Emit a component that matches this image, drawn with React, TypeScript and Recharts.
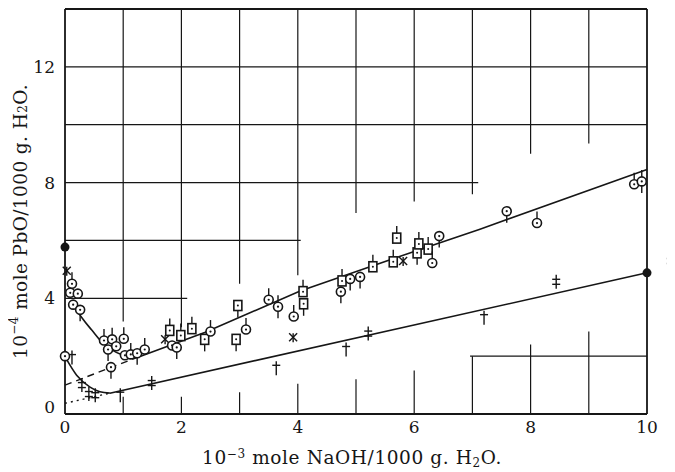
import {
  ComposedChart,
  Line,
  Scatter,
  XAxis,
  YAxis,
  ReferenceLine,
  ReferenceDot,
} from "recharts";

const INK = "#161616";
const FONT = "'DejaVu Serif', 'Liberation Serif', serif";

// axis ticks
const xTicks = [0, 2, 4, 6, 8, 10];
const yTicks = [0, 4, 8, 12];

// measured points; t = direction of the short tail ("u" up, "d" down)
const circles = [
  { x: 0, y: 2.0, t: "" },
  { x: 0.12, y: 4.5, t: "u" },
  { x: 0.09, y: 4.19, t: "" },
  { x: 0.22, y: 4.16, t: "" },
  { x: 0.14, y: 3.78, t: "" },
  { x: 0.26, y: 3.6, t: "d" },
  { x: 0.67, y: 2.54, t: "u" },
  { x: 0.81, y: 2.58, t: "u" },
  { x: 1.01, y: 2.6, t: "u" },
  { x: 0.74, y: 2.23, t: "d" },
  { x: 0.88, y: 2.34, t: "" },
  { x: 1.03, y: 2.03, t: "" },
  { x: 1.13, y: 2.06, t: "u" },
  { x: 1.24, y: 2.1, t: "d" },
  { x: 1.37, y: 2.23, t: "u" },
  { x: 0.79, y: 1.62, t: "d" },
  { x: 1.84, y: 2.37, t: "" },
  { x: 1.92, y: 2.3, t: "d" },
  { x: 2.5, y: 2.85, t: "u" },
  { x: 3.11, y: 2.92, t: "u" },
  { x: 3.5, y: 3.95, t: "u" },
  { x: 3.66, y: 3.71, t: "ud" },
  { x: 3.93, y: 3.37, t: "u" },
  { x: 4.74, y: 4.23, t: "d" },
  { x: 4.9, y: 4.67, t: "d" },
  { x: 5.07, y: 4.74, t: "d" },
  { x: 6.31, y: 5.22, t: "u" },
  { x: 6.43, y: 6.15, t: "d" },
  { x: 7.59, y: 7.01, t: "d" },
  { x: 8.11, y: 6.6, t: "u" },
  { x: 9.78, y: 7.94, t: "u" },
  { x: 9.91, y: 8.04, t: "ud" },
];

const squares = [
  { x: 1.8, y: 2.89, t: "u" },
  { x: 1.99, y: 2.71, t: "u" },
  { x: 2.18, y: 2.95, t: "u" },
  { x: 2.4, y: 2.58, t: "d" },
  { x: 2.94, y: 2.58, t: "d" },
  { x: 2.97, y: 3.75, t: "d" },
  { x: 4.09, y: 4.23, t: "u" },
  { x: 4.1, y: 3.81, t: "d" },
  { x: 4.76, y: 4.6, t: "u" },
  { x: 5.29, y: 5.09, t: "u" },
  { x: 5.64, y: 5.26, t: "u" },
  { x: 5.7, y: 6.08, t: "u" },
  { x: 6.05, y: 5.57, t: "d" },
  { x: 6.08, y: 5.88, t: "u" },
  { x: 6.24, y: 5.7, t: "u" },
];

const stars = [
  { x: 0.03, y: 4.95 },
  { x: 1.72, y: 2.58 },
  { x: 3.92, y: 2.65 },
  { x: 5.81, y: 5.29 },
];

const daggers = [
  { x: 0.12, y: 1.95 },
  { x: 0.95, y: 0.65 },
  { x: 3.63, y: 1.58 },
  { x: 4.83, y: 2.23 },
  { x: 7.2, y: 3.33 },
];

const doubleDaggers = [
  { x: 0.29, y: 1.0 },
  { x: 0.41, y: 0.69 },
  { x: 0.52, y: 0.65 },
  { x: 1.49, y: 1.07 },
  { x: 5.21, y: 2.78 },
  { x: 8.44, y: 4.57 },
];
const outlier = { x: 10.41, y: 5.29 };

const filled = [
  { x: 0, y: 5.77 },
  { x: 10, y: 4.88 },
];

// drawn curves
const upperCurve = [
  { x: 0.14, y: 3.8 },
  { x: 0.3, y: 3.3 },
  { x: 0.46, y: 2.9 },
  { x: 0.64, y: 2.47 },
  { x: 0.82, y: 2.2 },
  { x: 1.03, y: 2.03 },
  { x: 1.3, y: 2.0 },
];
const upperLine = [
  { x: 1.3, y: 2.0 },
  { x: 2.4, y: 2.82 },
  { x: 4.04, y: 4.25 },
  { x: 6.0, y: 5.62 },
  { x: 7.13, y: 6.39 },
  { x: 10, y: 8.45 },
];
const upperDashed = [
  { x: 0, y: 1.0 },
  { x: 1.3, y: 2.0 },
];
const lowerCurve = [
  { x: 0, y: 1.98 },
  { x: 0.2, y: 1.34 },
  { x: 0.43, y: 0.93 },
  { x: 0.6, y: 0.77 },
  { x: 0.77, y: 0.72 },
];
const lowerLine = [
  { x: 0.77, y: 0.72 },
  { x: 10, y: 4.88 },
];
const lowerDotted = [
  { x: 0, y: 0.37 },
  { x: 0.77, y: 0.72 },
];

// the printed grid is broken where the data sits
const hGrid = [
  { y: 14, from: 0, to: 10 },
  { y: 12, from: 0, to: 10 },
  { y: 10, from: 0, to: 10 },
  { y: 8, from: 0, to: 7.1 },
  { y: 6, from: 0, to: 4.05 },
  { y: 4, from: 0, to: 2.1 },
  { y: 2, from: 6.96, to: 10 },
];
const vGrid = [
  { x: 1, from: 3.2, to: 14 },
  { x: 1, from: 0, to: 0.6 },
  { x: 2, from: 3.0, to: 14 },
  { x: 2, from: 0, to: 0.6 },
  { x: 3, from: 4.5, to: 14 },
  { x: 3, from: 0, to: 0.75 },
  { x: 4, from: 4.8, to: 14 },
  { x: 4, from: 0, to: 1.05 },
  { x: 5, from: 6.95, to: 14 },
  { x: 5, from: 0, to: 1.2 },
  { x: 6, from: 7.35, to: 14 },
  { x: 6, from: 0, to: 1.5 },
  { x: 7, from: 7.6, to: 14 },
  { x: 7, from: 0, to: 2 },
  { x: 8, from: 9.0, to: 14 },
  { x: 8, from: 0, to: 2.4 },
  { x: 9, from: 9.35, to: 14 },
  { x: 9, from: 0, to: 2.85 },
  { x: 10, from: 0, to: 14 },
];

const Tails = ({ cx, cy, t, gap }: any) => (
  <>
    {t.includes("u") && (
      <line x1={cx} y1={cy - gap} x2={cx} y2={cy - gap - 7} stroke={INK} strokeWidth={1.4} />
    )}
    {t.includes("d") && (
      <line x1={cx} y1={cy + gap} x2={cx} y2={cy + gap + 7} stroke={INK} strokeWidth={1.4} />
    )}
  </>
);

const Ring = (p: any) => (
  <g>
    <Tails cx={p.cx} cy={p.cy} t={p.payload?.t ?? ""} gap={4.5} />
    <circle cx={p.cx} cy={p.cy} r={4.5} fill="#fff" stroke={INK} strokeWidth={1.6} />
    <circle cx={p.cx} cy={p.cy} r={1.1} fill={INK} />
  </g>
);

const Box = (p: any) => (
  <g>
    <Tails cx={p.cx} cy={p.cy} t={p.payload?.t ?? ""} gap={5} />
    <rect x={p.cx - 4} y={p.cy - 5} width={8} height={10} fill="#fff" stroke={INK} strokeWidth={1.6} />
    <circle cx={p.cx} cy={p.cy} r={1} fill={INK} />
  </g>
);

const Star = (p: any) => (
  <g stroke={INK} strokeWidth={1.4}>
    <line x1={p.cx - 4} y1={p.cy - 4} x2={p.cx + 4} y2={p.cy + 4} />
    <line x1={p.cx - 4} y1={p.cy + 4} x2={p.cx + 4} y2={p.cy - 4} />
    <line x1={p.cx} y1={p.cy - 4} x2={p.cx} y2={p.cy + 5} />
  </g>
);

const Dagger = (p: any) => (
  <g stroke={INK} strokeWidth={1.4}>
    <line x1={p.cx} y1={p.cy - 7} x2={p.cx} y2={p.cy + 7} />
    <line x1={p.cx - 4} y1={p.cy - 3} x2={p.cx + 4} y2={p.cy - 3} />
  </g>
);

const DoubleDagger = (p: any) => (
  <g stroke={INK} strokeWidth={1.4}>
    <line x1={p.cx} y1={p.cy - 7} x2={p.cx} y2={p.cy + 7} />
    <line x1={p.cx - 4} y1={p.cy - 2.5} x2={p.cx + 4} y2={p.cy - 2.5} />
    <line x1={p.cx - 4} y1={p.cy + 2.5} x2={p.cx + 4} y2={p.cy + 2.5} />
  </g>
);

const Dot = (p: any) => <circle cx={p.cx} cy={p.cy} r={4.5} fill={INK} />;

const XTick = ({ x, y, payload }: any) => (
  <text x={x} y={y + 19} textAnchor="middle" fontFamily={FONT} fontSize={17} fill={INK}>
    {payload.value}
  </text>
);

const YTick = ({ x, y, payload }: any) => (
  <text
    x={x - 10}
    y={y + 6 - (payload.value === 0 ? 7 : 0)}
    textAnchor="end"
    fontFamily={FONT}
    fontSize={17}
    fill={INK}
  >
    {payload.value}
  </text>
);

const XLabel = ({ viewBox }: any) => {
  const cx = viewBox.x + viewBox.width / 2 - 4;
  const y = viewBox.y + 50;
  return (
    <text x={cx} y={y} textAnchor="middle" fontFamily={FONT} fontSize={18.5} fill={INK} letterSpacing={0.6}>
      10
      <tspan dy={-6} fontSize={12}>−3</tspan>
      <tspan dy={6}> mole NaOH/1000 g. H</tspan>
      <tspan dy={3} fontSize={12}>2</tspan>
      <tspan dy={-3}>O.</tspan>
    </text>
  );
};

const YLabel = ({ viewBox }: any) => {
  const x = viewBox.x + 12;
  const cy = viewBox.y + viewBox.height / 2 + 10;
  return (
    <text
      x={x}
      y={cy}
      transform={`rotate(-90 ${x} ${cy})`}
      textAnchor="middle"
      dominantBaseline="central"
      fontFamily={FONT}
      fontSize={18.5}
      fill={INK}
      letterSpacing={0.4}
    >
      10
      <tspan dy={-6} fontSize={12}>−4</tspan>
      <tspan dy={6}> mole PbO/1000 g. H</tspan>
      <tspan dy={3} fontSize={12}>2</tspan>
      <tspan dy={-3}>O.</tspan>
    </text>
  );
};

export default function App() {
  return (
    <ComposedChart
      width={667}
      height={464}
      margin={{ top: 1, right: 28, left: 0, bottom: 0 }}
      style={{ background: "#fff" }}
    >
      <XAxis
        type="number"
        dataKey="x"
        domain={[0, 10]}
        ticks={xTicks}
        tick={<XTick />}
        tickLine={false}
        tickSize={0}
        tickMargin={0}
        height={58}
        axisLine={{ stroke: INK, strokeWidth: 1.8 }}
        label={{ content: <XLabel /> } as any}
      />
      <YAxis
        type="number"
        dataKey="y"
        domain={[0, 14]}
        ticks={yTicks}
        tick={<YTick />}
        tickLine={false}
        tickSize={0}
        tickMargin={0}
        width={57}
        axisLine={{ stroke: INK, strokeWidth: 1.8 }}
        label={{ content: <YLabel /> } as any}
      />

      {hGrid.map((g, i) => (
        <ReferenceLine
          key={`h${i}`}
          segment={[
            { x: g.from, y: g.y },
            { x: g.to, y: g.y },
          ]}
          stroke={INK}
          strokeWidth={g.y === 14 ? 1.8 : 1.3}
        />
      ))}
      {vGrid.map((g, i) => (
        <ReferenceLine
          key={`v${i}`}
          segment={[
            { x: g.x, y: g.from },
            { x: g.x, y: g.to },
          ]}
          stroke={INK}
          strokeWidth={g.x === 10 ? 1.8 : 1.2}
        />
      ))}

      <Line data={upperCurve} dataKey="y" type="monotone" stroke={INK} strokeWidth={1.6} dot={false} isAnimationActive={false} />
      <Line data={upperLine} dataKey="y" type="linear" stroke={INK} strokeWidth={1.6} dot={false} isAnimationActive={false} />
      <Line data={upperDashed} dataKey="y" type="linear" stroke={INK} strokeWidth={1.4} strokeDasharray="7 5" dot={false} isAnimationActive={false} />
      <Line data={lowerCurve} dataKey="y" type="monotone" stroke={INK} strokeWidth={1.6} dot={false} isAnimationActive={false} />
      <Line data={lowerLine} dataKey="y" type="linear" stroke={INK} strokeWidth={1.6} dot={false} isAnimationActive={false} />
      <Line data={lowerDotted} dataKey="y" type="linear" stroke={INK} strokeWidth={1.4} strokeDasharray="2 4" dot={false} isAnimationActive={false} />

      <Scatter data={daggers} dataKey="y" shape={Dagger} isAnimationActive={false} />
      <Scatter data={doubleDaggers} dataKey="y" shape={DoubleDagger} isAnimationActive={false} />
      <Scatter data={stars} dataKey="y" shape={Star} isAnimationActive={false} />
      <Scatter data={squares} dataKey="y" shape={Box} isAnimationActive={false} />
      <Scatter data={circles} dataKey="y" shape={Ring} isAnimationActive={false} />
      <Scatter data={filled} dataKey="y" shape={Dot} isAnimationActive={false} />
      <ReferenceDot x={outlier.x} y={outlier.y} ifOverflow="visible" shape={DoubleDagger} />
    </ComposedChart>
  );
}
